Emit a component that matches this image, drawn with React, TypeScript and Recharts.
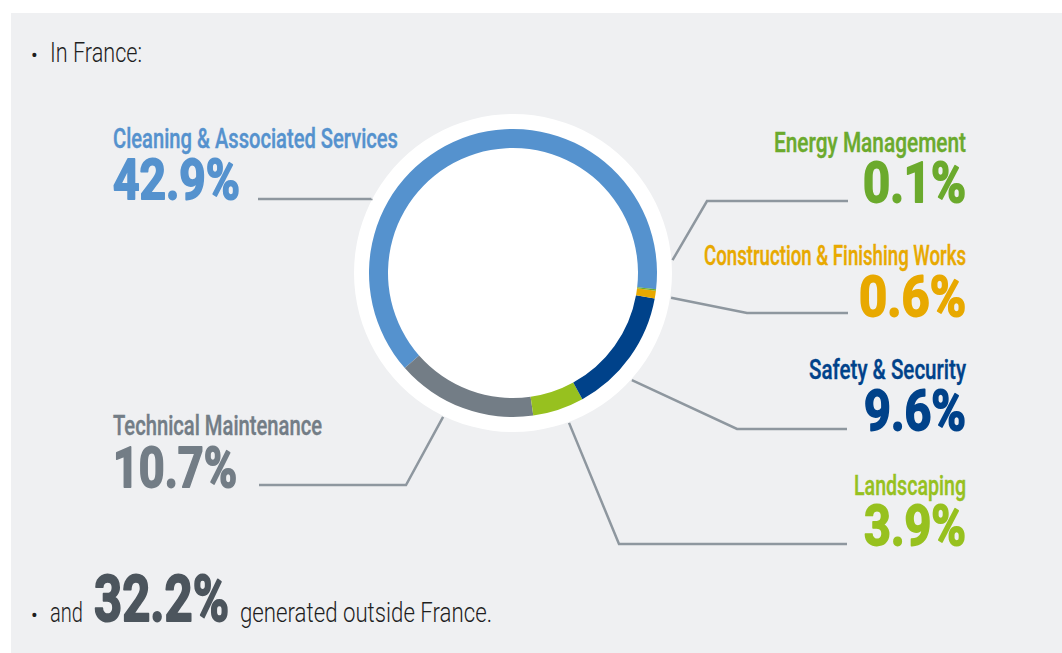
import { Cell, Pie, PieChart } from "recharts";

// France revenue split by business line (share of group revenue, %)
const categories = [
  "Cleaning & Associated Services",
  "Technical Maintenance",
  "Landscaping",
  "Safety & Security",
  "Construction & Finishing Works",
  "Energy Management",
];
const shares = [42.9, 10.7, 3.9, 9.6, 0.6, 0.1];
const colors = ["#5592CE", "#737D86", "#97C11F", "#00428A", "#E8A900", "#6BAA2D"];
const outsideShare = 32.2;

// callout placement, one per category (same order as above)
const callouts = [
  { side: "left", angle: 152.3, lineY: 199, elbowX: null, endX: 258, nameY: 148, valueY: 199, nameW: 285, valueW: 127 },
  { side: "left", angle: 244.1, lineY: 485, elbowX: 406, endX: 259, nameY: 435, valueY: 487, nameW: 209, valueW: 124 },
  { side: "right", angle: -69.5, lineY: 544, elbowX: 619, endX: 847, nameY: 495, valueY: 545, nameW: 112, valueW: 102 },
  { side: "right", angle: -42, lineY: 429, elbowX: 737, endX: 847, nameY: 379, valueY: 430, nameW: 157, valueW: 102 },
  { side: "right", angle: -8.9, lineY: 313, elbowX: 747, endX: 848, nameY: 265, valueY: 316, nameW: 262, valueW: 107 },
  { side: "right", angle: 4.6, lineY: 201, elbowX: 707, endX: 848, nameY: 152, valueY: 202, nameW: 192, valueW: 103 },
];

const FONT = "Roboto, 'Liberation Sans', Arial, sans-serif";
const W = 1062;
const H = 653;
const CX = 513;
const CY = 273;
const LEADER_R = 160;
const LINE_COLOR = "#8E979F";

const data = categories.map((name, i) => ({ name, value: shares[i], color: colors[i] }));
const disc = [{ name: "bg", value: 1 }];

function renderCallout(props: any) {
  const { cx, cy, index } = props;
  const c = callouts[index];
  const color = colors[index];
  const rad = (c.angle * Math.PI) / 180;
  const sx = cx + LEADER_R * Math.cos(rad);
  const sy = cy - LEADER_R * Math.sin(rad);
  const ex = c.elbowX ?? sx;
  const textX = c.side === "left" ? 113 : 966;
  const anchor = c.side === "left" ? "start" : "end";
  return (
    <g key={`callout-${index}`}>
      <polyline
        points={`${sx},${sy} ${ex},${c.lineY} ${c.endX},${c.lineY}`}
        fill="none"
        stroke={LINE_COLOR}
        strokeWidth={2.5}
      />
      <text
        x={textX}
        y={c.nameY}
        textAnchor={anchor}
        fill={color}
        stroke={color}
        strokeWidth={0.4}
        fontFamily={FONT}
        fontWeight={500}
        fontSize={27}
        textLength={c.nameW}
        lengthAdjust="spacingAndGlyphs"
      >
        {categories[index]}
      </text>
      <text
        x={textX}
        y={c.valueY}
        textAnchor={anchor}
        fill={color}
        stroke={color}
        strokeWidth={1.8}
        strokeLinejoin="round"
        fontFamily={FONT}
        fontWeight={700}
        fontSize={55}
        textLength={c.valueW}
        lengthAdjust="spacingAndGlyphs"
      >
        {`${shares[index].toFixed(1)}%`}
      </text>
    </g>
  );
}

export default function App() {
  return (
    <div style={{ position: "absolute", left: 0, top: 0, width: W, height: H, background: "#FFFFFF", overflow: "hidden" }}>
      <div style={{ position: "absolute", left: 11, top: 13, right: 0, bottom: 0, background: "#EFF0F2" }} />
      <div style={{ position: "absolute", left: 0, top: 0 }}>
        <PieChart width={W} height={H} margin={{ top: 0, right: 0, bottom: 0, left: 0 }}>
          <Pie
            data={disc}
            dataKey="value"
            cx={CX}
            cy={CY}
            innerRadius={0}
            outerRadius={159}
            startAngle={0}
            endAngle={360}
            fill="#FFFFFF"
            stroke="none"
            isAnimationActive={false}
          />
          <Pie
            data={data}
            dataKey="value"
            nameKey="name"
            cx={CX}
            cy={CY}
            innerRadius={125}
            outerRadius={144}
            startAngle={-6.5}
            endAngle={353.5}
            paddingAngle={0}
            stroke="none"
            label={renderCallout}
            labelLine={false}
            isAnimationActive={false}
          >
            {data.map((d) => (
              <Cell key={d.name} fill={d.color} />
            ))}
          </Pie>
        </PieChart>
      </div>
      <svg width={W} height={H} style={{ position: "absolute", left: 0, top: 0, pointerEvents: "none" }}>
        <text x={31} y={62} fontFamily={FONT} fontSize={20} fill="#1E1E1E">•</text>
        <text x={50} y={62} fontFamily={FONT} fontWeight={300} fontSize={27} fill="#1E1E1E" textLength={92} lengthAdjust="spacingAndGlyphs">
          In France:
        </text>
        <text x={31} y={622} fontFamily={FONT} fontSize={20} fill="#1E1E1E">•</text>
        <text x={50} y={622} fontFamily={FONT} fontWeight={300} fontSize={27} fill="#1E1E1E" textLength={33} lengthAdjust="spacingAndGlyphs">
          and
        </text>
        <text
          x={94}
          y={621}
          fontFamily={FONT}
          fontWeight={700}
          fontSize={65}
          fill="#4C555D"
          stroke="#4C555D"
          strokeWidth={2}
          strokeLinejoin="round"
          textLength={135}
          lengthAdjust="spacingAndGlyphs"
        >
          {`${outsideShare.toFixed(1)}%`}
        </text>
        <text x={240} y={622} fontFamily={FONT} fontWeight={300} fontSize={27} fill="#1E1E1E" textLength={252} lengthAdjust="spacingAndGlyphs">
          generated outside France.
        </text>
      </svg>
    </div>
  );
}
